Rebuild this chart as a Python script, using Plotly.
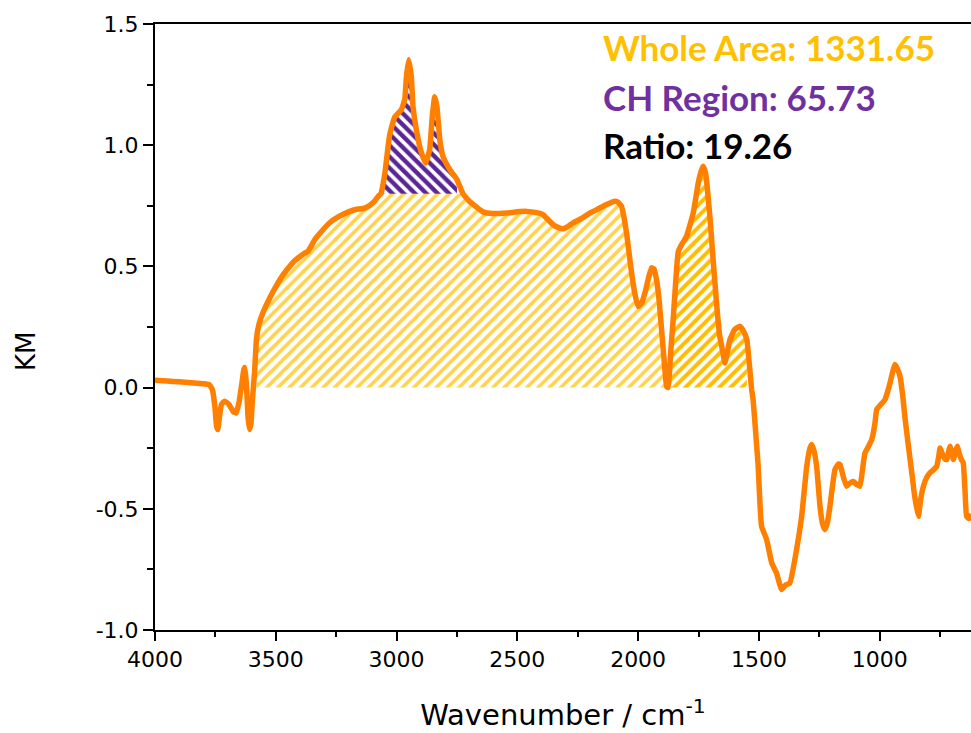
import plotly.graph_objects as go

# Kubelka-Munk spectrum (wavenumber in cm-1, KM units)
wavenumber = [
    4000, 3950, 3900, 3850, 3800, 3775, 3762, 3752, 3745, 3740, 3733, 3725,
    3712, 3695, 3675, 3664, 3652, 3640, 3632, 3628, 3622, 3615, 3609, 3603,
    3596, 3588, 3580, 3570, 3553, 3525, 3498, 3470, 3443, 3420, 3401, 3380,
    3367, 3350, 3339, 3310, 3277, 3240, 3194, 3160, 3132, 3110, 3091, 3075,
    3065, 3049, 3029, 3008, 2980, 2966, 2959, 2950, 2939, 2932, 2918, 2897,
    2879, 2863, 2852, 2842, 2833, 2821, 2808, 2780, 2750, 2725, 2700, 2669,
    2642, 2600, 2545, 2500, 2462, 2420, 2394, 2370, 2352, 2330, 2311, 2290,
    2269, 2230, 2200, 2160, 2131, 2100, 2085, 2069, 2058, 2048, 2038, 2027,
    2012, 2000, 1985, 1972, 1955, 1944, 1935, 1924, 1912, 1903, 1892, 1882,
    1876, 1865, 1855, 1840, 1834, 1820, 1800, 1772, 1760, 1751, 1740, 1731,
    1722, 1717, 1703, 1692, 1682, 1672, 1662, 1650, 1641, 1630, 1620, 1600,
    1579, 1565, 1550, 1540, 1530, 1524, 1513, 1503, 1489, 1468, 1447, 1427,
    1406, 1390, 1372, 1344, 1323, 1302, 1290, 1282, 1272, 1261, 1247, 1237,
    1227, 1216, 1206, 1185, 1170, 1164, 1150, 1137, 1125, 1109, 1095, 1082,
    1070, 1061, 1045, 1033, 1020, 1012, 995, 978, 965, 957, 945, 937,
    928, 916, 905, 896, 880, 867, 855, 840, 830, 819, 805, 792,
    778, 764, 755, 750, 740, 730, 722, 715, 709, 702, 695, 687,
    679, 670, 660, 654, 647, 640, 630, 622,
]
km = [
    0.030, 0.027, 0.024, 0.020, 0.016, 0.012, -0.010, -0.080, -0.160, -0.173, -0.120, -0.070,
    -0.056, -0.068, -0.100, -0.105, -0.060, 0.020, 0.075, 0.083, 0.020, -0.120, -0.173, -0.150,
    -0.040, 0.060, 0.200, 0.260, 0.310, 0.370, 0.420, 0.465, 0.500, 0.525, 0.540, 0.555,
    0.562, 0.590, 0.610, 0.645, 0.680, 0.705, 0.727, 0.737, 0.740, 0.752, 0.769, 0.790,
    0.800, 0.880, 1.040, 1.115, 1.147, 1.190, 1.284, 1.353, 1.284, 1.160, 1.064, 0.968,
    0.927, 0.982, 1.120, 1.200, 1.160, 1.023, 0.954, 0.900, 0.858, 0.800, 0.770, 0.745,
    0.725, 0.718, 0.720, 0.725, 0.727, 0.722, 0.714, 0.690, 0.672, 0.660, 0.655, 0.665,
    0.680, 0.700, 0.720, 0.740, 0.755, 0.768, 0.766, 0.748, 0.700, 0.638, 0.560, 0.473,
    0.380, 0.335, 0.350, 0.390, 0.460, 0.494, 0.490, 0.446, 0.350, 0.239, 0.110, 0.005,
    0.000, 0.150, 0.280, 0.500, 0.560, 0.590, 0.624, 0.720, 0.790, 0.845, 0.890, 0.913,
    0.890, 0.858, 0.707, 0.560, 0.432, 0.310, 0.212, 0.150, 0.102, 0.150, 0.198, 0.240,
    0.253, 0.235, 0.198, 0.100, -0.008, -0.050, -0.190, -0.325, -0.572, -0.627, -0.723, -0.765,
    -0.833, -0.815, -0.806, -0.668, -0.531, -0.325, -0.255, -0.235, -0.260, -0.325, -0.490, -0.560,
    -0.586, -0.555, -0.490, -0.338, -0.315, -0.318, -0.370, -0.407, -0.395, -0.387, -0.400, -0.407,
    -0.330, -0.270, -0.240, -0.215, -0.150, -0.090, -0.070, -0.050, -0.010, 0.020, 0.070, 0.095,
    0.080, 0.047, -0.030, -0.118, -0.250, -0.352, -0.450, -0.531, -0.460, -0.407, -0.370, -0.352,
    -0.340, -0.325, -0.280, -0.249, -0.275, -0.295, -0.297, -0.265, -0.242, -0.270, -0.297, -0.265,
    -0.242, -0.275, -0.300, -0.311, -0.420, -0.531, -0.540, -0.520,
]

# Integration windows (cm-1)
whole_range = [3580, 1550]
whole_split = 1876          # second lobe of the whole-area integral
ch_range = [3065, 2750]
ch_baseline = [0.80, 0.80]  # linear baseline under the CH stretch band

# Values printed on the chart
whole_area = 1331.65
ch_area = 65.73
ratio = 19.26

curve = list(zip(wavenumber, km))


def baseline_at(w):
    (w0, w1), (b0, b1) = ch_range, ch_baseline
    return b0 + (b1 - b0) * (w - w0) / (w1 - w0)


def top_of_whole(w, v):
    # inside the CH window the whole-area fill stops at the baseline
    if ch_range[1] <= w <= ch_range[0]:
        return min(v, baseline_at(w))
    return v


def region(lo, hi):
    return [(w, v) for w, v in curve if lo <= w <= hi]


def whole_polygon(hi, lo):
    pts = [(w, top_of_whole(w, v)) for w, v in region(lo, hi)]
    xs = [p[0] for p in pts] + [lo, hi, hi]
    ys = [p[1] for p in pts] + [0, 0, pts[0][1]]
    return xs, ys


fig = go.Figure()

# Whole-area hatch, two lobes
for (hi, lo), col, sol in [((whole_range[0], whole_split), "#FFD34F", 0.45),
                           ((whole_split, whole_range[1]), "#FFBC00", 0.5)]:
    xs, ys = whole_polygon(hi, lo)
    fig.add_trace(go.Scatter(
        x=xs, y=ys, mode="lines", fill="toself", line=dict(width=0),
        fillcolor="rgba(0,0,0,0)",
        fillpattern=dict(shape="/", fgcolor=col, fgopacity=1,
                         bgcolor="rgba(255,255,255,0)", size=8, solidity=sol),
        hoverinfo="skip", showlegend=False))

# CH-region hatch between curve and baseline
ch_pts = region(ch_range[1], ch_range[0])
ch_x = [p[0] for p in ch_pts] + [ch_range[1], ch_range[0]]
ch_y = [p[1] for p in ch_pts] + [baseline_at(ch_range[1]), baseline_at(ch_range[0])]
fig.add_trace(go.Scatter(
    x=ch_x, y=ch_y, mode="lines", fill="toself", line=dict(width=0),
    fillcolor="rgba(0,0,0,0)",
    fillpattern=dict(shape="\\", fgcolor="#5A2696", fgopacity=1,
                     bgcolor="rgba(255,255,255,0)", size=8, solidity=0.55),
    hoverinfo="skip", showlegend=False))

# Spectrum
fig.add_trace(go.Scatter(
    x=wavenumber, y=km, mode="lines",
    line=dict(color="#FF8000", width=5.5, shape="spline", smoothing=0.4),
    showlegend=False))

axis_family = "DejaVu Sans, Verdana, sans-serif"
tick_font = dict(family=axis_family, size=22, color="black")

fig.update_xaxes(
    range=[4000, 622], tickvals=[4000, 3500, 3000, 2500, 2000, 1500, 1000],
    ticks="outside", ticklen=9, tickwidth=1.5, tickcolor="black",
    minor=dict(dtick=250, ticks="outside", ticklen=5, tickwidth=1.5, tickcolor="black"),
    showline=True, linecolor="black", linewidth=2, mirror=True,
    showgrid=False, zeroline=False, tickfont=tick_font,
    title=dict(text="Wavenumber / cm<sup>-1</sup>",
               font=dict(family=axis_family, size=29, color="black"),
               standoff=33),
)
fig.update_yaxes(
    range=[-1.0, 1.5], tickvals=[-1.0, -0.5, 0.0, 0.5, 1.0, 1.5],
    ticktext=["-1.0", "-0.5", "0.0", "0.5", "1.0", "1.5"],
    ticks="outside", ticklen=10, tickwidth=1.5, tickcolor="black",
    minor=dict(dtick=0.25, ticks="outside", ticklen=6, tickwidth=1.5, tickcolor="black"),
    showline=True, linecolor="black", linewidth=2,
    showgrid=False, zeroline=False, tickfont=tick_font,
)

# y-axis title, sitting slightly below the plot's mid-height
fig.add_annotation(
    text="KM", xref="paper", yref="paper",
    x=(26 - 155) / (971 - 155), y=1 - (352 - 24) / 606,
    xanchor="center", yanchor="middle", textangle=-90, showarrow=False,
    font=dict(family=axis_family, size=26, color="black"))

label_font = "Lato, Open Sans, sans-serif"
labels = [
    (f"<b>Whole Area: {whole_area:.2f}</b>", "#FFC000", 47),
    (f"<b>CH Region: {ch_area:.2f}</b>", "#7030A0", 97),
    (f"<b>Ratio: {ratio:.2f}</b>", "black", 145),
]
for text, col, ypx in labels:
    fig.add_annotation(
        text=text, xref="paper", yref="paper",
        x=(601 - 155) / (971 - 155), y=1 - (ypx - 24) / 606,
        xanchor="left", yanchor="middle", showarrow=False,
        font=dict(family=label_font, size=35, color=col))

fig.update_layout(
    width=971, height=733,
    margin=dict(l=155, r=0, t=24, b=103),
    paper_bgcolor="white", plot_bgcolor="white",
)

fig.write_html("out.html")
